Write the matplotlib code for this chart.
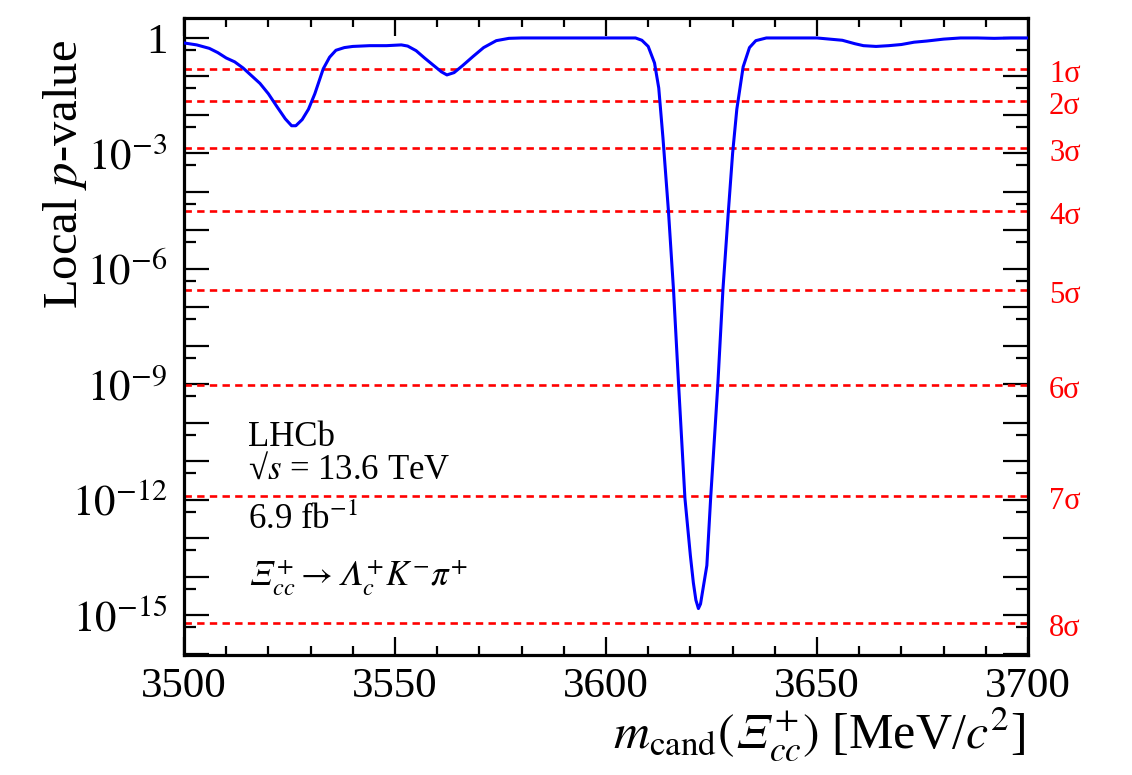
import numpy as np
import matplotlib
matplotlib.use("Agg")
import matplotlib.pyplot as plt
from matplotlib.ticker import LogLocator, FuncFormatter, MultipleLocator

plt.rcParams['font.family'] = ['Liberation Serif', 'DejaVu Serif']
plt.rcParams['mathtext.fontset'] = 'stix'

# === data ===
mass = [3500.0, 3503, 3506, 3508, 3510, 3512, 3514, 3516, 3518, 3520, 3522, 3524,
        3525.5, 3526.5, 3528, 3529.5, 3531, 3533, 3534.5, 3536, 3538, 3540, 3544,
        3548, 3551.5, 3553, 3555, 3557, 3559, 3561, 3562.3, 3564, 3566, 3568.5,
        3571, 3574, 3577, 3580, 3607, 3608.5, 3610, 3611.5, 3612.5, 3613.5,
        3614.8, 3616, 3617.2, 3618.7, 3620, 3620.7, 3621.3, 3621.9, 3622.4, 3623.0,
        3623.9, 3624.8, 3626.5, 3627.7, 3629, 3630, 3631, 3632.5, 3634, 3635.5,
        3638, 3650, 3653, 3656, 3659, 3661, 3664, 3667, 3670, 3673, 3676, 3680,
        3684, 3688, 3692, 3696, 3700]
log_p = [-0.13, -0.18, -0.27, -0.38, -0.52, -0.62, -0.78, -0.98, -1.18, -1.45, -1.78, -2.10,
         -2.28, -2.28, -2.12, -1.85, -1.45, -0.80, -0.50, -0.32, -0.25, -0.22, -0.20,
         -0.20, -0.18, -0.21, -0.33, -0.52, -0.70, -0.88, -0.96, -0.90, -0.72, -0.48,
         -0.25, -0.07, -0.01, 0.0, 0.0, -0.06, -0.22, -0.65, -1.3, -2.6,
         -4.5, -6.55, -9.0, -11.95, -13.45, -14.15, -14.6, -14.82, -14.7, -14.3,
         -13.7, -11.95, -9.0, -6.55, -4.5, -3.0, -1.85, -0.75, -0.25, -0.07,
         0.0, 0.0, -0.03, -0.06, -0.15, -0.20, -0.22, -0.20, -0.17, -0.11, -0.08, -0.03,
         0.0, 0.0, -0.01, 0.0, 0.0]

sigma_labels = ['1σ', '2σ', '3σ', '4σ', '5σ', '6σ', '7σ', '8σ']
sigma_p = [1.587e-1, 2.275e-2, 1.350e-3, 3.167e-5, 2.867e-7, 9.866e-10, 1.280e-12, 6.221e-16]

info_lines = ['LHCb', r'√$s$ = 13.6 TeV', r'6.9 fb$^{-1}$',
              '$\U0001D6EF_{cc}^{+} \\rightarrow \U0001D6EC_{c}^{+}K^{-}\\pi^{+}$']
info_y = [437, 470, 520, 578]

# === plot ===
fig = plt.figure(figsize=(11.32, 7.75), dpi=100)
ax = fig.add_axes([184 / 1132, 1 - 655 / 775, (1028 - 184) / 1132, (655 - 18) / 775])

pval = 10 ** np.array(log_p)
ax.plot(mass, pval, color='#0000ff', lw=2.2, zorder=3)

for lab, p in zip(sigma_labels, sigma_p):
    ax.axhline(p, color='#ff0000', lw=1.9, ls=(0, (2.8, 2.0)), zorder=2)
    ax.text(1.025, p * 0.72, lab, transform=ax.get_yaxis_transform(),
            color='#ff0000', fontsize=22, va='center', ha='left')

ax.set_yscale('log')
ax.set_xlim(3500, 3700)
ax.set_ylim(9.4e-17, 3.3)

ax.xaxis.set_major_locator(MultipleLocator(50))
ax.xaxis.set_minor_locator(MultipleLocator(10))
ax.yaxis.set_major_locator(LogLocator(base=10, numticks=40))
ax.yaxis.set_minor_locator(LogLocator(base=10, subs=(5.0,), numticks=40))


def ylab(v, pos):
    e = int(round(np.log10(v)))
    if e % 3 != 0:
        return ''
    if e == 0:
        return '1'
    return r'$10^{%d}$' % e


ax.yaxis.set_major_formatter(FuncFormatter(ylab))
ax.yaxis.set_minor_formatter(FuncFormatter(lambda v, p: ''))

ax.tick_params(which='both', direction='in', top=True, right=True, width=1.6, labelsize=31)
ax.tick_params(axis='x', which='major', length=13, pad=9)
ax.tick_params(axis='x', which='minor', length=6.5)
ax.tick_params(axis='y', which='major', length=18, pad=12)
ax.tick_params(axis='y', which='minor', length=8.6)
for s in ax.spines.values():
    s.set_linewidth(2.3)

fig.text(65 / 1132, 1 - 40 / 775, r'Local $p$-value', rotation=90,
         ha='center', va='top', fontsize=35)
fig.text(1025 / 1132, 1 - 748 / 775,
         '$m_{\\rm cand}(\U0001D6EF_{cc}^{+})$ [MeV/$c^{2}$]',
         ha='right', va='baseline', fontsize=36)

for t, y in zip(info_lines, info_y):
    fig.text(248 / 1132, 1 - y / 775, t, ha='left', va='center', fontsize=25)

fig.savefig('out.png', dpi=100)
